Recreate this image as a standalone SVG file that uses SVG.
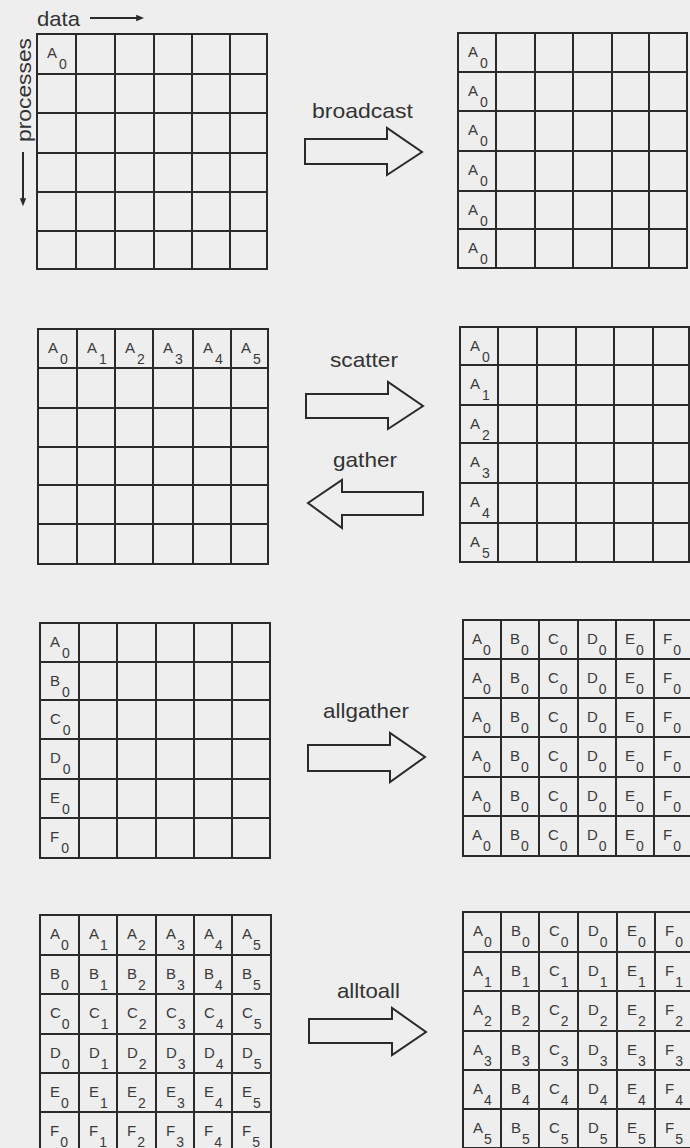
<svg xmlns="http://www.w3.org/2000/svg" width="690" height="1148" viewBox="0 0 690 1148">
<defs>
<style>
.g{fill:none;stroke:#2a2a2a;stroke-width:2}
.c{font-family:"Liberation Sans",Arial,sans-serif;font-size:15px;fill:#3a3a3a}
.s{font-size:14px}
.lbl{font-family:"Liberation Sans",Arial,sans-serif;font-size:21px;fill:#333}
.arr{fill:#eeeeee;stroke:#2a2a2a;stroke-width:2;stroke-linejoin:miter}
.ax{stroke:#2a2a2a;stroke-width:2;fill:none}
</style>
<marker id="ah" viewBox="0 0 10 10" refX="1" refY="5" markerWidth="4" markerHeight="4" orient="auto" markerUnits="strokeWidth">
<path d="M0 1L10 5L0 9Z" fill="#2a2a2a"/>
</marker>
</defs>
<rect width="690" height="1148" fill="#eeeeee"/>

<g id="axes">
<text class="lbl" x="37" y="26" textLength="43" lengthAdjust="spacingAndGlyphs">data</text>
<line class="ax" x1="90" y1="18" x2="137" y2="18" marker-end="url(#ah)"/>
<text class="lbl" transform="translate(31,90) rotate(-90)" text-anchor="middle" textLength="104" lengthAdjust="spacingAndGlyphs">processes</text>
<line class="ax" x1="23" y1="152" x2="23" y2="199" marker-end="url(#ah)"/>
</g>

<g id="bcast-src">
<path class="g" d="M37 34H267V269H37Z M76 34V269 M115 34V269 M154 34V269 M192 34V269 M230 34V269 M37 74H267 M37 113H267 M37 153H267 M37 192H267 M37 231H267"/>
<text class="c" x="47" y="58">A<tspan class="s" dx="2" dy="11">0</tspan></text>
</g>

<g id="bcast-dst">
<path class="g" d="M458 33H687V268H458Z M496 33V268 M535 33V268 M573 33V268 M612 33V268 M649 33V268 M458 72H687 M458 111H687 M458 151H687 M458 191H687 M458 229H687"/>
<text class="c" x="468" y="57">A<tspan class="s" dx="2" dy="11">0</tspan></text>
<text class="c" x="468" y="96">A<tspan class="s" dx="2" dy="11">0</tspan></text>
<text class="c" x="468" y="135">A<tspan class="s" dx="2" dy="11">0</tspan></text>
<text class="c" x="468" y="175">A<tspan class="s" dx="2" dy="11">0</tspan></text>
<text class="c" x="468" y="215">A<tspan class="s" dx="2" dy="11">0</tspan></text>
<text class="c" x="468" y="253">A<tspan class="s" dx="2" dy="11">0</tspan></text>
</g>

<g id="scatter-src">
<path class="g" d="M38 329H268V564H38Z M77 329V564 M115 329V564 M153 329V564 M193 329V564 M231 329V564 M38 368H268 M38 408H268 M38 447H268 M38 485H268 M38 524H268"/>
<text class="c" x="48" y="353">A<tspan class="s" dx="2" dy="11">0</tspan></text>
<text class="c" x="87" y="353">A<tspan class="s" dx="2" dy="11">1</tspan></text>
<text class="c" x="125" y="353">A<tspan class="s" dx="2" dy="11">2</tspan></text>
<text class="c" x="163" y="353">A<tspan class="s" dx="2" dy="11">3</tspan></text>
<text class="c" x="203" y="353">A<tspan class="s" dx="2" dy="11">4</tspan></text>
<text class="c" x="241" y="353">A<tspan class="s" dx="2" dy="11">5</tspan></text>
</g>

<g id="scatter-dst">
<path class="g" d="M460 327H689V562H460Z M498 327V562 M537 327V562 M576 327V562 M614 327V562 M653 327V562 M460 365H689 M460 405H689 M460 443H689 M460 483H689 M460 523H689"/>
<text class="c" x="470" y="351">A<tspan class="s" dx="2" dy="11">0</tspan></text>
<text class="c" x="470" y="389">A<tspan class="s" dx="2" dy="11">1</tspan></text>
<text class="c" x="470" y="429">A<tspan class="s" dx="2" dy="11">2</tspan></text>
<text class="c" x="470" y="467">A<tspan class="s" dx="2" dy="11">3</tspan></text>
<text class="c" x="470" y="507">A<tspan class="s" dx="2" dy="11">4</tspan></text>
<text class="c" x="470" y="547">A<tspan class="s" dx="2" dy="11">5</tspan></text>
</g>

<g id="allgather-src">
<path class="g" d="M40 623H270V858H40Z M79 623V858 M117 623V858 M156 623V858 M194 623V858 M232 623V858 M40 662H270 M40 700H270 M40 739H270 M40 779H270 M40 818H270"/>
<text class="c" x="50" y="647">A<tspan class="s" dx="2" dy="11">0</tspan></text>
<text class="c" x="50" y="686">B<tspan class="s" dx="2" dy="11">0</tspan></text>
<text class="c" x="50" y="724">C<tspan class="s" dx="2" dy="11">0</tspan></text>
<text class="c" x="50" y="763">D<tspan class="s" dx="2" dy="11">0</tspan></text>
<text class="c" x="50" y="803">E<tspan class="s" dx="2" dy="11">0</tspan></text>
<text class="c" x="50" y="842">F<tspan class="s" dx="2" dy="11">0</tspan></text>
</g>

<g id="allgather-dst">
<path class="g" d="M463 620H692V856H463Z M501 620V856 M539 620V856 M578 620V856 M616 620V856 M654 620V856 M463 659H692 M463 698H692 M463 737H692 M463 777H692 M463 816H692"/>
<text class="c" x="472" y="644">A<tspan class="s" dx="1" dy="11">0</tspan></text>
<text class="c" x="510" y="644">B<tspan class="s" dx="1" dy="11">0</tspan></text>
<text class="c" x="548" y="644">C<tspan class="s" dx="1" dy="11">0</tspan></text>
<text class="c" x="587" y="644">D<tspan class="s" dx="1" dy="11">0</tspan></text>
<text class="c" x="625" y="644">E<tspan class="s" dx="1" dy="11">0</tspan></text>
<text class="c" x="663" y="644">F<tspan class="s" dx="1" dy="11">0</tspan></text>
<text class="c" x="472" y="683">A<tspan class="s" dx="1" dy="11">0</tspan></text>
<text class="c" x="510" y="683">B<tspan class="s" dx="1" dy="11">0</tspan></text>
<text class="c" x="548" y="683">C<tspan class="s" dx="1" dy="11">0</tspan></text>
<text class="c" x="587" y="683">D<tspan class="s" dx="1" dy="11">0</tspan></text>
<text class="c" x="625" y="683">E<tspan class="s" dx="1" dy="11">0</tspan></text>
<text class="c" x="663" y="683">F<tspan class="s" dx="1" dy="11">0</tspan></text>
<text class="c" x="472" y="722">A<tspan class="s" dx="1" dy="11">0</tspan></text>
<text class="c" x="510" y="722">B<tspan class="s" dx="1" dy="11">0</tspan></text>
<text class="c" x="548" y="722">C<tspan class="s" dx="1" dy="11">0</tspan></text>
<text class="c" x="587" y="722">D<tspan class="s" dx="1" dy="11">0</tspan></text>
<text class="c" x="625" y="722">E<tspan class="s" dx="1" dy="11">0</tspan></text>
<text class="c" x="663" y="722">F<tspan class="s" dx="1" dy="11">0</tspan></text>
<text class="c" x="472" y="761">A<tspan class="s" dx="1" dy="11">0</tspan></text>
<text class="c" x="510" y="761">B<tspan class="s" dx="1" dy="11">0</tspan></text>
<text class="c" x="548" y="761">C<tspan class="s" dx="1" dy="11">0</tspan></text>
<text class="c" x="587" y="761">D<tspan class="s" dx="1" dy="11">0</tspan></text>
<text class="c" x="625" y="761">E<tspan class="s" dx="1" dy="11">0</tspan></text>
<text class="c" x="663" y="761">F<tspan class="s" dx="1" dy="11">0</tspan></text>
<text class="c" x="472" y="801">A<tspan class="s" dx="1" dy="11">0</tspan></text>
<text class="c" x="510" y="801">B<tspan class="s" dx="1" dy="11">0</tspan></text>
<text class="c" x="548" y="801">C<tspan class="s" dx="1" dy="11">0</tspan></text>
<text class="c" x="587" y="801">D<tspan class="s" dx="1" dy="11">0</tspan></text>
<text class="c" x="625" y="801">E<tspan class="s" dx="1" dy="11">0</tspan></text>
<text class="c" x="663" y="801">F<tspan class="s" dx="1" dy="11">0</tspan></text>
<text class="c" x="472" y="840">A<tspan class="s" dx="1" dy="11">0</tspan></text>
<text class="c" x="510" y="840">B<tspan class="s" dx="1" dy="11">0</tspan></text>
<text class="c" x="548" y="840">C<tspan class="s" dx="1" dy="11">0</tspan></text>
<text class="c" x="587" y="840">D<tspan class="s" dx="1" dy="11">0</tspan></text>
<text class="c" x="625" y="840">E<tspan class="s" dx="1" dy="11">0</tspan></text>
<text class="c" x="663" y="840">F<tspan class="s" dx="1" dy="11">0</tspan></text>
</g>

<g id="alltoall-src">
<path class="g" d="M40 915H271V1151H40Z M79 915V1151 M117 915V1151 M156 915V1151 M194 915V1151 M232 915V1151 M40 955H271 M40 994H271 M40 1034H271 M40 1073H271 M40 1112H271"/>
<text class="c" x="50" y="939">A<tspan class="s" dx="1" dy="11">0</tspan></text>
<text class="c" x="89" y="939">A<tspan class="s" dx="1" dy="11">1</tspan></text>
<text class="c" x="127" y="939">A<tspan class="s" dx="1" dy="11">2</tspan></text>
<text class="c" x="166" y="939">A<tspan class="s" dx="1" dy="11">3</tspan></text>
<text class="c" x="204" y="939">A<tspan class="s" dx="1" dy="11">4</tspan></text>
<text class="c" x="242" y="939">A<tspan class="s" dx="1" dy="11">5</tspan></text>
<text class="c" x="50" y="979">B<tspan class="s" dx="1" dy="11">0</tspan></text>
<text class="c" x="89" y="979">B<tspan class="s" dx="1" dy="11">1</tspan></text>
<text class="c" x="127" y="979">B<tspan class="s" dx="1" dy="11">2</tspan></text>
<text class="c" x="166" y="979">B<tspan class="s" dx="1" dy="11">3</tspan></text>
<text class="c" x="204" y="979">B<tspan class="s" dx="1" dy="11">4</tspan></text>
<text class="c" x="242" y="979">B<tspan class="s" dx="1" dy="11">5</tspan></text>
<text class="c" x="50" y="1018">C<tspan class="s" dx="1" dy="11">0</tspan></text>
<text class="c" x="89" y="1018">C<tspan class="s" dx="1" dy="11">1</tspan></text>
<text class="c" x="127" y="1018">C<tspan class="s" dx="1" dy="11">2</tspan></text>
<text class="c" x="166" y="1018">C<tspan class="s" dx="1" dy="11">3</tspan></text>
<text class="c" x="204" y="1018">C<tspan class="s" dx="1" dy="11">4</tspan></text>
<text class="c" x="242" y="1018">C<tspan class="s" dx="1" dy="11">5</tspan></text>
<text class="c" x="50" y="1058">D<tspan class="s" dx="1" dy="11">0</tspan></text>
<text class="c" x="89" y="1058">D<tspan class="s" dx="1" dy="11">1</tspan></text>
<text class="c" x="127" y="1058">D<tspan class="s" dx="1" dy="11">2</tspan></text>
<text class="c" x="166" y="1058">D<tspan class="s" dx="1" dy="11">3</tspan></text>
<text class="c" x="204" y="1058">D<tspan class="s" dx="1" dy="11">4</tspan></text>
<text class="c" x="242" y="1058">D<tspan class="s" dx="1" dy="11">5</tspan></text>
<text class="c" x="50" y="1097">E<tspan class="s" dx="1" dy="11">0</tspan></text>
<text class="c" x="89" y="1097">E<tspan class="s" dx="1" dy="11">1</tspan></text>
<text class="c" x="127" y="1097">E<tspan class="s" dx="1" dy="11">2</tspan></text>
<text class="c" x="166" y="1097">E<tspan class="s" dx="1" dy="11">3</tspan></text>
<text class="c" x="204" y="1097">E<tspan class="s" dx="1" dy="11">4</tspan></text>
<text class="c" x="242" y="1097">E<tspan class="s" dx="1" dy="11">5</tspan></text>
<text class="c" x="50" y="1136">F<tspan class="s" dx="1" dy="11">0</tspan></text>
<text class="c" x="89" y="1136">F<tspan class="s" dx="1" dy="11">1</tspan></text>
<text class="c" x="127" y="1136">F<tspan class="s" dx="1" dy="11">2</tspan></text>
<text class="c" x="166" y="1136">F<tspan class="s" dx="1" dy="11">3</tspan></text>
<text class="c" x="204" y="1136">F<tspan class="s" dx="1" dy="11">4</tspan></text>
<text class="c" x="242" y="1136">F<tspan class="s" dx="1" dy="11">5</tspan></text>
</g>

<g id="alltoall-dst">
<path class="g" d="M463 912H693V1148H463Z M501 912V1148 M539 912V1148 M578 912V1148 M617 912V1148 M655 912V1148 M463 952H693 M463 991H693 M463 1031H693 M463 1070H693 M463 1109H693"/>
<text class="c" x="473" y="936">A<tspan class="s" dx="1" dy="11">0</tspan></text>
<text class="c" x="511" y="936">B<tspan class="s" dx="1" dy="11">0</tspan></text>
<text class="c" x="549" y="936">C<tspan class="s" dx="1" dy="11">0</tspan></text>
<text class="c" x="588" y="936">D<tspan class="s" dx="1" dy="11">0</tspan></text>
<text class="c" x="627" y="936">E<tspan class="s" dx="1" dy="11">0</tspan></text>
<text class="c" x="665" y="936">F<tspan class="s" dx="1" dy="11">0</tspan></text>
<text class="c" x="473" y="976">A<tspan class="s" dx="1" dy="11">1</tspan></text>
<text class="c" x="511" y="976">B<tspan class="s" dx="1" dy="11">1</tspan></text>
<text class="c" x="549" y="976">C<tspan class="s" dx="1" dy="11">1</tspan></text>
<text class="c" x="588" y="976">D<tspan class="s" dx="1" dy="11">1</tspan></text>
<text class="c" x="627" y="976">E<tspan class="s" dx="1" dy="11">1</tspan></text>
<text class="c" x="665" y="976">F<tspan class="s" dx="1" dy="11">1</tspan></text>
<text class="c" x="473" y="1015">A<tspan class="s" dx="1" dy="11">2</tspan></text>
<text class="c" x="511" y="1015">B<tspan class="s" dx="1" dy="11">2</tspan></text>
<text class="c" x="549" y="1015">C<tspan class="s" dx="1" dy="11">2</tspan></text>
<text class="c" x="588" y="1015">D<tspan class="s" dx="1" dy="11">2</tspan></text>
<text class="c" x="627" y="1015">E<tspan class="s" dx="1" dy="11">2</tspan></text>
<text class="c" x="665" y="1015">F<tspan class="s" dx="1" dy="11">2</tspan></text>
<text class="c" x="473" y="1055">A<tspan class="s" dx="1" dy="11">3</tspan></text>
<text class="c" x="511" y="1055">B<tspan class="s" dx="1" dy="11">3</tspan></text>
<text class="c" x="549" y="1055">C<tspan class="s" dx="1" dy="11">3</tspan></text>
<text class="c" x="588" y="1055">D<tspan class="s" dx="1" dy="11">3</tspan></text>
<text class="c" x="627" y="1055">E<tspan class="s" dx="1" dy="11">3</tspan></text>
<text class="c" x="665" y="1055">F<tspan class="s" dx="1" dy="11">3</tspan></text>
<text class="c" x="473" y="1094">A<tspan class="s" dx="1" dy="11">4</tspan></text>
<text class="c" x="511" y="1094">B<tspan class="s" dx="1" dy="11">4</tspan></text>
<text class="c" x="549" y="1094">C<tspan class="s" dx="1" dy="11">4</tspan></text>
<text class="c" x="588" y="1094">D<tspan class="s" dx="1" dy="11">4</tspan></text>
<text class="c" x="627" y="1094">E<tspan class="s" dx="1" dy="11">4</tspan></text>
<text class="c" x="665" y="1094">F<tspan class="s" dx="1" dy="11">4</tspan></text>
<text class="c" x="473" y="1133">A<tspan class="s" dx="1" dy="11">5</tspan></text>
<text class="c" x="511" y="1133">B<tspan class="s" dx="1" dy="11">5</tspan></text>
<text class="c" x="549" y="1133">C<tspan class="s" dx="1" dy="11">5</tspan></text>
<text class="c" x="588" y="1133">D<tspan class="s" dx="1" dy="11">5</tspan></text>
<text class="c" x="627" y="1133">E<tspan class="s" dx="1" dy="11">5</tspan></text>
<text class="c" x="665" y="1133">F<tspan class="s" dx="1" dy="11">5</tspan></text>
</g>

<g id="connectors">
<text class="lbl" x="312" y="118" textLength="101" lengthAdjust="spacingAndGlyphs">broadcast</text>
<polygon class="arr" points="305,139 387,139 387,128 422,152 387,175 387,164 305,164"/>
<text class="lbl" x="330" y="367" textLength="68" lengthAdjust="spacingAndGlyphs">scatter</text>
<polygon class="arr" points="306,394 388,394 388,382 423,406 388,429 388,418 306,418"/>
<text class="lbl" x="333" y="467" textLength="64" lengthAdjust="spacingAndGlyphs">gather</text>
<polygon class="arr" points="423,492 342,492 342,480 308,503 342,528 342,515 423,515"/>
<text class="lbl" x="323" y="718" textLength="86" lengthAdjust="spacingAndGlyphs">allgather</text>
<polygon class="arr" points="308,745 390,745 390,733 425,757 390,782 390,771 308,771"/>
<text class="lbl" x="337" y="998" textLength="63" lengthAdjust="spacingAndGlyphs">alltoall</text>
<polygon class="arr" points="309,1019 392,1019 392,1008 426,1032 392,1055 392,1043 309,1043"/>
</g>
</svg>
